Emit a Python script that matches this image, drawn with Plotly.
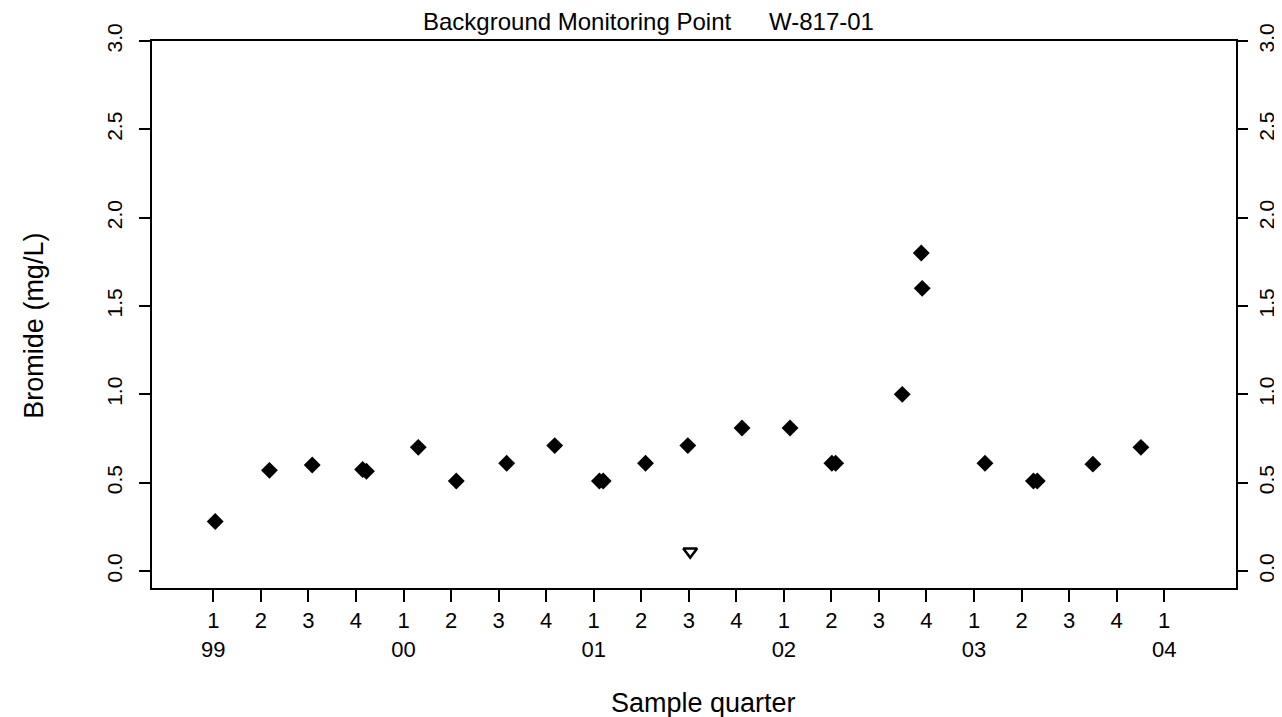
import plotly.graph_objects as go

# Sample time expressed as quarter index (0 = 1999 Q1), bromide mg/L
sample_q = [0.04, 1.18, 2.08, 3.14, 3.22, 4.31, 5.11, 6.17, 7.18, 8.12, 8.20,
            9.09, 9.98, 11.12, 12.13, 13.01, 13.09, 14.49, 14.89, 14.91,
            16.23, 17.25, 17.33, 18.50, 19.51]
bromide = [0.28, 0.57, 0.60, 0.575, 0.565, 0.70, 0.51, 0.61, 0.71, 0.51, 0.51,
           0.61, 0.71, 0.81, 0.81, 0.61, 0.61, 1.00, 1.80, 1.60,
           0.61, 0.51, 0.51, 0.605, 0.70]

# Non-detect (reporting limit) sample
nd_q = [10.03]
nd_val = [0.11]

quarter_labels = ["1", "2", "3", "4"] * 5 + ["1"]
year_labels = {0: "99", 4: "00", 8: "01", 12: "02", 16: "03", 20: "04"}
tick_q = list(range(21))
tick_text = [
    quarter_labels[i] + ("<br>" + year_labels[i] if i in year_labels else "")
    for i in tick_q
]
y_ticks = [0.0, 0.5, 1.0, 1.5, 2.0, 2.5, 3.0]

FONT = "Liberation Sans, Arial, Helvetica, sans-serif"

fig = go.Figure()
fig.add_trace(go.Scatter(
    x=sample_q, y=bromide, mode="markers",
    marker=dict(symbol="diamond", size=13, color="black", line=dict(width=0)),
    showlegend=False, hoverinfo="skip"))
fig.add_trace(go.Scatter(
    x=nd_q, y=nd_val, mode="markers",
    marker=dict(symbol="triangle-down-open", size=12, color="black",
                line=dict(width=2.5, color="black")),
    showlegend=False, hoverinfo="skip"))
# right-hand axis carrier
fig.add_trace(go.Scatter(x=[None], y=[None], yaxis="y2", showlegend=False,
                         hoverinfo="skip"))

fig.update_layout(
    width=1282, height=717,
    margin=dict(l=144, r=48, t=33, b=137),
    paper_bgcolor="white", plot_bgcolor="white",
    font=dict(family=FONT, color="black"),
    xaxis=dict(range=[-1.29, 21.51], tickmode="array", tickvals=tick_q,
               ticktext=tick_text, ticks="outside", ticklen=12, tickwidth=2,
               tickcolor="black", showline=True, linewidth=2, linecolor="black",
               mirror=True, showgrid=False, zeroline=False,
               tickfont=dict(size=22, family=FONT), ticklabelstandoff=0),
    yaxis=dict(range=[-0.096, 3.0], tickmode="array", tickvals=y_ticks,
               tickformat=".1f", ticks="outside", ticklen=11, tickwidth=2,
               tickcolor="black", showline=True, linewidth=2, linecolor="black",
               showgrid=False, zeroline=False, tickangle=-90,
               tickfont=dict(size=21, family=FONT), ticklabelstandoff=9),
    yaxis2=dict(range=[-0.096, 3.0], overlaying="y", side="right",
                tickmode="array", tickvals=y_ticks, tickformat=".1f",
                ticks="outside", ticklen=10, tickwidth=2, tickcolor="black",
                showline=True, linewidth=2, linecolor="black",
                showgrid=False, zeroline=False, tickangle=-90,
                tickfont=dict(size=21, family=FONT), ticklabelstandoff=1),
    annotations=[
        dict(text="Background Monitoring Point", x=(572 - 144) / 1090,
             y=(580 - 13) / 547, xref="paper", yref="paper", showarrow=False,
             xanchor="center", yanchor="middle", font=dict(size=24)),
        dict(text="W-817-01", x=(817 - 144) / 1090, y=(580 - 13) / 547,
             xref="paper", yref="paper", showarrow=False,
             xanchor="center", yanchor="middle", font=dict(size=24)),
        dict(text="Bromide (mg/L)", x=(25 - 144) / 1090, y=(580 - 318) / 547,
             xref="paper", yref="paper", showarrow=False, textangle=-90,
             xanchor="center", yanchor="middle", font=dict(size=27)),
        dict(text="Sample quarter", x=(699 - 144) / 1090, y=(580 - 695) / 547,
             xref="paper", yref="paper", showarrow=False,
             xanchor="center", yanchor="middle", font=dict(size=27)),
    ],
)

fig.write_html("out.html")
